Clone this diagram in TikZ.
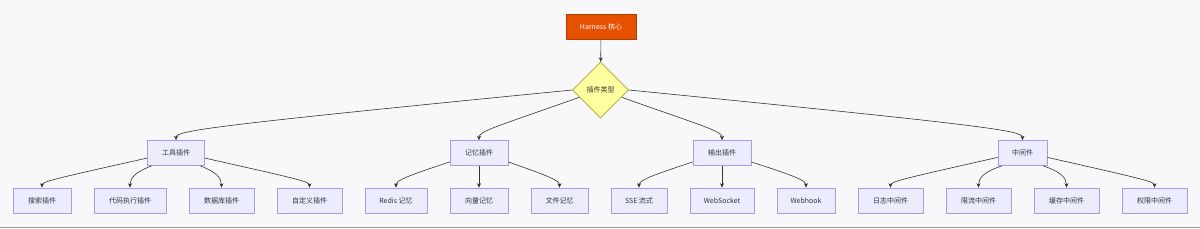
\documentclass[tikz,border=0pt]{standalone}
\usepackage{fontspec}
\setmainfont{Noto Sans CJK SC}
\usetikzlibrary{shapes.geometric,arrows.meta,calc}
\definecolor{bgc}{HTML}{F8F8FB}
\definecolor{boxfill}{HTML}{ECECFF}
\definecolor{boxline}{HTML}{AE98E4}
\definecolor{corefill}{HTML}{E65100}
\definecolor{coreline}{HTML}{B23C00}
\definecolor{decfill}{HTML}{FFFFA0}
\definecolor{decline}{HTML}{AAAA33}
\definecolor{edgec}{HTML}{333333}
\tikzset{
  every node/.style={font=\fontsize{7}{9}\selectfont},
  plug/.style={draw=boxline, fill=boxfill, line width=0.7pt, minimum height=25pt, inner xsep=0pt, text=black!80},
  core/.style={draw=coreline, fill=corefill, line width=0.7pt, minimum width=70pt, minimum height=25pt, text=white},
  decision/.style={diamond, aspect=1, draw=decline, fill=decfill, line width=0.7pt, minimum width=56pt, minimum height=56pt, inner sep=0pt, text=black!80},
  edge/.style={draw=edgec, line width=0.6pt, -{Stealth[length=4.5pt,width=4pt]}}
}
% \bendedge{start}{end}{dx}{dy}{dy2}: nearly straight, then turning down into end
\newcommand{\bendedge}[5]{\draw[edge] (#1) .. controls ($(#2)+(#3,#4)$) and ($(#2)+(0,#5)$) .. (#2);}
\begin{document}
\begin{tikzpicture}[x=1pt,y=-1pt]
\useasboundingbox (0,0) rectangle (1200,228);
\fill[bgc] (0,0) rectangle (1200,228);
\fill[black!38] (0,226.5) rectangle (1200,228);

\node[core] (core) at (601,26.5) {Harness 核心};
\node[decision] (type) at (600.5,90) {插件类型};

\node[plug, minimum width=57pt] (tool) at (176,153) {工具插件};
\node[plug, minimum width=58pt] (mem) at (479,153) {记忆插件};
\node[plug, minimum width=58pt] (out) at (722,153) {输出插件};
\node[plug, minimum width=49pt] (mid) at (1022.5,153) {中间件};

\node[plug, minimum width=58pt] (s1) at (42,200.5) {搜索插件};
\node[plug, minimum width=72pt] (s2) at (130,200.5) {代码执行插件};
\node[plug, minimum width=65pt] (s3) at (221.5,200.5) {数据库插件};
\node[plug, minimum width=65pt] (s4) at (309.5,200.5) {自定义插件};

\node[plug, minimum width=62pt] (m1) at (396,200.5) {Redis 记忆};
\node[plug, minimum width=58pt] (m2) at (479,200.5) {向量记忆};
\node[plug, minimum width=57pt] (m3) at (559.5,200.5) {文件记忆};

\node[plug, minimum width=56pt] (o1) at (639,200.5) {SSE 流式};
\node[plug, minimum width=64pt] (o2) at (722,200.5) {WebSocket};
\node[plug, minimum width=58pt] (o3) at (806,200.5) {Webhook};

\node[plug, minimum width=65pt] (w1) at (890.5,200.5) {日志中间件};
\node[plug, minimum width=65pt] (w2) at (978.5,200.5) {限流中间件};
\node[plug, minimum width=65pt] (w3) at (1066.5,200.5) {缓存中间件};
\node[plug, minimum width=65pt] (w4) at (1154.5,200.5) {权限中间件};

\draw[edge] (core) -- (type);

\bendedge{type.west}{tool.north}{34}{-14.5}{-9.5}
\bendedge{type.199}{mem.north}{16}{-13}{-9}
\bendedge{type.-19}{out.north}{-16}{-13}{-9}
\bendedge{type.east}{mid.north}{-34}{-14.5}{-9.5}

\bendedge{tool.190}{s1.north}{13}{-9}{-6}
\bendedge{tool.208}{s2.north}{6}{-16}{-10}
\bendedge{tool.-28}{s3.north}{-6}{-16}{-10}
\bendedge{tool.-10}{s4.north}{-13}{-9}{-6}

\bendedge{mem.197}{m1.north}{9}{-11}{-7}
\draw[edge] (mem) -- (m2);
\bendedge{mem.-17}{m3.north}{-9}{-11}{-7}

\bendedge{out.197}{o1.north}{9}{-11}{-7}
\draw[edge] (out) -- (o2);
\bendedge{out.-17}{o3.north}{-9}{-11}{-7}

\bendedge{mid.190}{w1.north}{13}{-9}{-6}
\bendedge{mid.212}{w2.north}{6}{-16}{-10}
\bendedge{mid.-32}{w3.north}{-6}{-16}{-10}
\bendedge{mid.-10}{w4.north}{-13}{-9}{-6}
\end{tikzpicture}
\end{document}
